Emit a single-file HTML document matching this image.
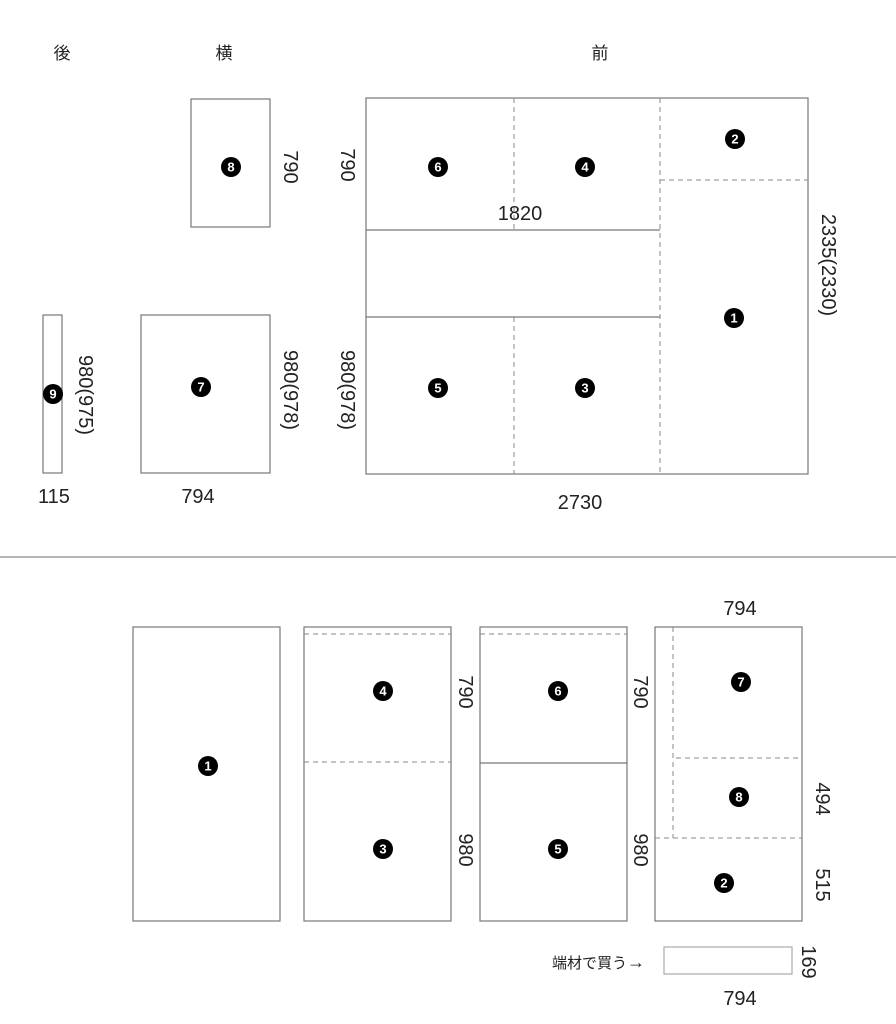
<!DOCTYPE html>
<html><head><meta charset="utf-8"><style>
html,body{margin:0;padding:0;background:#fff;width:896px;height:1024px;overflow:hidden}
svg{display:block}
text{font-family:"Liberation Sans","Noto Sans CJK JP",sans-serif;fill:#222}
.t{font-size:20px}
.s{fill:none;stroke:#777;stroke-width:1.2}
.d{fill:none;stroke:#888;stroke-width:1;stroke-dasharray:5,4}
.n{font-size:13px;font-weight:bold;fill:#fff}
</style></head><body>
<svg width="896" height="1024" viewBox="0 0 896 1024">
<defs>
<g id="c"><circle r="10" fill="#000"/></g>
</defs>
<text x="62" y="59" font-size="17" text-anchor="middle">後</text>
<text x="224" y="59" font-size="17" text-anchor="middle">横</text>
<text x="600" y="59" font-size="17" text-anchor="middle">前</text>

<rect class="s" x="191" y="99" width="79" height="128"/>
<rect class="s" x="366" y="98" width="442" height="376"/>
<line class="d" x1="514" y1="98" x2="514" y2="230"/>
<line class="d" x1="514" y1="317" x2="514" y2="474"/>
<line class="d" x1="660" y1="98" x2="660" y2="474"/>
<line class="d" x1="660" y1="180" x2="808" y2="180"/>
<line class="s" x1="366" y1="230" x2="660" y2="230"/>
<line class="s" x1="366" y1="317" x2="660" y2="317"/>
<rect class="s" x="43" y="315" width="19" height="158"/>
<rect class="s" x="141" y="315" width="129" height="158"/>

<line x1="0" y1="557" x2="896" y2="557" stroke="#888" stroke-width="1.2"/>

<rect class="s" x="133" y="627" width="147" height="294"/>
<rect class="s" x="304" y="627" width="147" height="294"/>
<line class="d" x1="304" y1="634" x2="451" y2="634"/>
<line class="d" x1="304" y1="762" x2="451" y2="762"/>
<rect class="s" x="480" y="627" width="147" height="294"/>
<line class="d" x1="480" y1="634" x2="627" y2="634"/>
<line class="s" x1="480" y1="763" x2="627" y2="763"/>
<rect class="s" x="655" y="627" width="147" height="294"/>
<line class="d" x1="673" y1="627" x2="673" y2="838"/>
<line class="d" x1="676" y1="758" x2="802" y2="758"/>
<line class="d" x1="655" y1="838" x2="802" y2="838"/>
<rect x="664" y="947" width="128" height="27" fill="none" stroke="#aaa" stroke-width="1.2"/>

<g>
<use href="#c" x="231" y="167"/><text class="n" x="231" y="171.5" text-anchor="middle">8</text>
<use href="#c" x="438" y="167"/><text class="n" x="438" y="171.5" text-anchor="middle">6</text>
<use href="#c" x="585" y="167"/><text class="n" x="585" y="171.5" text-anchor="middle">4</text>
<use href="#c" x="735" y="139"/><text class="n" x="735" y="143.5" text-anchor="middle">2</text>
<use href="#c" x="734" y="318"/><text class="n" x="734" y="322.5" text-anchor="middle">1</text>
<use href="#c" x="438" y="388"/><text class="n" x="438" y="392.5" text-anchor="middle">5</text>
<use href="#c" x="585" y="388"/><text class="n" x="585" y="392.5" text-anchor="middle">3</text>
<use href="#c" x="53" y="394"/><text class="n" x="53" y="398.5" text-anchor="middle">9</text>
<use href="#c" x="201" y="387"/><text class="n" x="201" y="391.5" text-anchor="middle">7</text>
<use href="#c" x="208" y="766"/><text class="n" x="208" y="770.5" text-anchor="middle">1</text>
<use href="#c" x="383" y="691"/><text class="n" x="383" y="695.5" text-anchor="middle">4</text>
<use href="#c" x="383" y="849"/><text class="n" x="383" y="853.5" text-anchor="middle">3</text>
<use href="#c" x="558" y="691"/><text class="n" x="558" y="695.5" text-anchor="middle">6</text>
<use href="#c" x="558" y="849"/><text class="n" x="558" y="853.5" text-anchor="middle">5</text>
<use href="#c" x="741" y="682"/><text class="n" x="741" y="686.5" text-anchor="middle">7</text>
<use href="#c" x="739" y="797"/><text class="n" x="739" y="801.5" text-anchor="middle">8</text>
<use href="#c" x="724" y="883"/><text class="n" x="724" y="887.5" text-anchor="middle">2</text>
</g>

<text class="t" x="520" y="220" text-anchor="middle">1820</text>
<text class="t" x="580" y="509" text-anchor="middle">2730</text>
<text class="t" x="54" y="503" text-anchor="middle">115</text>
<text class="t" x="198" y="503" text-anchor="middle">794</text>
<text class="t" x="740" y="615" text-anchor="middle">794</text>
<text class="t" x="740" y="1005" text-anchor="middle">794</text>
<text x="645" y="968" font-size="15" text-anchor="end">端材で買う<tspan font-size="18">→</tspan></text>

<g class="t" text-anchor="middle" dominant-baseline="central">
<text transform="translate(290,167) rotate(90)">790</text>
<text transform="translate(347,165) rotate(90)">790</text>
<text transform="translate(828,265) rotate(90)">2335(2330)</text>
<text transform="translate(347,390) rotate(90)">980(978)</text>
<text transform="translate(290,390) rotate(90)">980(978)</text>
<text transform="translate(85,395) rotate(90)">980(975)</text>
<text transform="translate(465,692) rotate(90)">790</text>
<text transform="translate(465,850) rotate(90)">980</text>
<text transform="translate(640,692) rotate(90)">790</text>
<text transform="translate(640,850) rotate(90)">980</text>
<text transform="translate(822,799) rotate(90)">494</text>
<text transform="translate(822,885) rotate(90)">515</text>
<text transform="translate(808,962) rotate(90)">169</text>
</g>
</svg>
</body></html>
